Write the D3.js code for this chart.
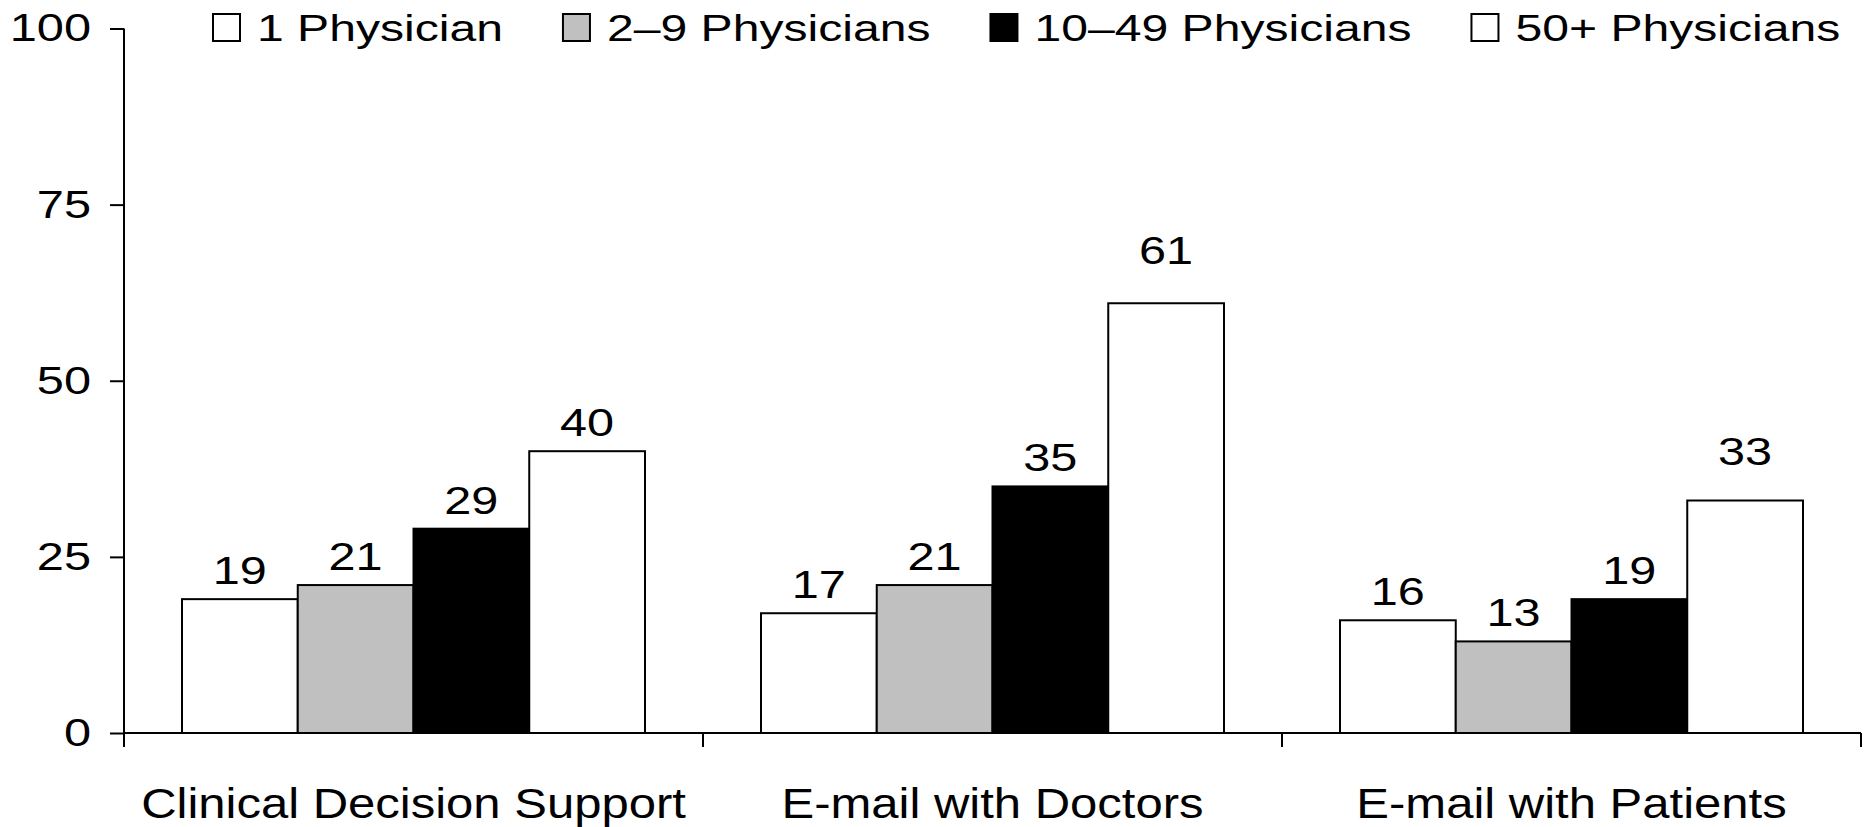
<!DOCTYPE html>
<html>
<head>
<meta charset="utf-8">
<script src="https://cdn.jsdelivr.net/npm/d3@7"></script>
<style>
  html, body { margin: 0; padding: 0; background: #fff; }
  svg { display: block; }
  text { font-family: "Liberation Sans", Arial, sans-serif; fill: #000; }
</style>
</head>
<body>
<svg id="chart" width="1868" height="827"></svg>
<script>
// Share of practices using each IT function, by practice size (%)
const categories = ["Clinical Decision Support", "E-mail with Doctors", "E-mail with Patients"];
const seriesNames = ["1 Physician", "2\u20139 Physicians", "10\u201349 Physicians", "50+ Physicians"];
const onePhysician = [19, 17, 16];
const twoToNine = [21, 21, 13];
const tenToFortyNine = [29, 35, 19];
const fiftyPlus = [40, 61, 33];
const yTicks = [0, 25, 50, 75, 100];

const seriesValues = [onePhysician, twoToNine, tenToFortyNine, fiftyPlus];
const fills = ["#ffffff", "#c0c0c0", "#000000", "#ffffff"];

// Extra lift for a few value labels that sit higher above their bars
const labelLift = { "E-mail with Doctors|50+ Physicians": 24, "E-mail with Patients|50+ Physicians": 21 };

const svg = d3.select("#chart");
const plot = { left: 124, right: 1861, top: 28.5, bottom: 733 };

const y = d3.scaleLinear().domain([0, 100]).range([plot.bottom, plot.top]);
const x0 = d3.scaleBand().domain(categories).range([plot.left, plot.right]).padding(0);
const groupPad = 58;
const x1 = d3.scaleBand().domain(seriesNames)
  .range([groupPad, x0.bandwidth() - groupPad]).padding(0);

const rows = categories.map((c, i) => ({
  category: c,
  bars: seriesNames.map((s, j) => ({ category: c, series: s, value: seriesValues[j][i], fill: fills[j] }))
}));

// Bars
const groups = svg.append("g").selectAll("g").data(rows).join("g")
  .attr("transform", d => `translate(${x0(d.category)},0)`);

groups.selectAll("rect").data(d => d.bars).join("rect")
  .attr("x", d => x1(d.series))
  .attr("y", d => y(d.value))
  .attr("width", x1.bandwidth())
  .attr("height", d => y(0) - y(d.value))
  .attr("fill", d => d.fill)
  .attr("stroke", "#000")
  .attr("stroke-width", 2);

// Value labels above bars
const valueStretch = 1.28;
groups.selectAll("text.value").data(d => d.bars).join("text")
  .attr("class", "value")
  .attr("text-anchor", "middle")
  .attr("font-size", 38)
  .attr("transform", d => {
    const lift = 15 + (labelLift[d.category + "|" + d.series] || 0);
    return `translate(${x1(d.series) + x1.bandwidth() / 2},${y(d.value) - lift}) scale(${valueStretch},1)`;
  })
  .text(d => d.value);

// Y axis
const tickStretch = 1.25;
const tickLen = 14;
const yAxis = svg.append("g")
  .attr("transform", `translate(${plot.left},0)`)
  .call(d3.axisLeft(y).tickValues(yTicks).tickSize(tickLen).tickSizeOuter(0).tickPadding(19));
yAxis.select(".domain").remove();
yAxis.selectAll(".tick line").attr("stroke", "#000").attr("stroke-width", 2);
yAxis.selectAll(".tick text")
  .attr("font-family", "Liberation Sans, Arial, sans-serif")
  .attr("font-size", 39)
  .attr("fill", "#000")
  .attr("x", -(tickLen + 19) / tickStretch)
  .attr("transform", `scale(${tickStretch},1)`);

// Axis lines
svg.append("line")
  .attr("x1", plot.left).attr("x2", plot.left)
  .attr("y1", y(100)).attr("y2", y(0) + tickLen)
  .attr("stroke", "#000").attr("stroke-width", 2);
svg.append("line")
  .attr("x1", plot.left).attr("x2", plot.right)
  .attr("y1", y(0)).attr("y2", y(0))
  .attr("stroke", "#000").attr("stroke-width", 2);

// Category boundary ticks on the x axis
const edges = categories.map(c => x0(c)).concat([x0.range()[1]]);
svg.append("g").selectAll("line").data(edges).join("line")
  .attr("x1", d => d).attr("x2", d => d)
  .attr("y1", y(0)).attr("y2", y(0) + tickLen)
  .attr("stroke", "#000").attr("stroke-width", 2);

// Category labels
const catStretch = 1.14;
svg.append("g").selectAll("text").data(categories).join("text")
  .attr("text-anchor", "middle")
  .attr("font-size", 43)
  .attr("transform", d => `translate(${x0(d) + x0.bandwidth() / 2},818) scale(${catStretch},1)`)
  .text(d => d);

// Legend, laid out left to right
const legendStretch = 1.3;
const legend = svg.append("g");
let lx = 213;
const sq = 27, sqTop = 14, textGap = 17, itemGap = 60;
seriesNames.forEach((name, j) => {
  legend.append("rect")
    .attr("x", lx).attr("y", sqTop)
    .attr("width", sq).attr("height", sq)
    .attr("fill", fills[j]).attr("stroke", "#000").attr("stroke-width", 2);
  const tx = lx + sq + textGap;
  const t = legend.append("text")
    .attr("font-size", 37)
    .attr("transform", `translate(${tx},41) scale(${legendStretch},1)`)
    .text(name);
  const w = t.node().getComputedTextLength() * legendStretch;
  lx = tx + w + itemGap;
});
</script>
</body>
</html>
